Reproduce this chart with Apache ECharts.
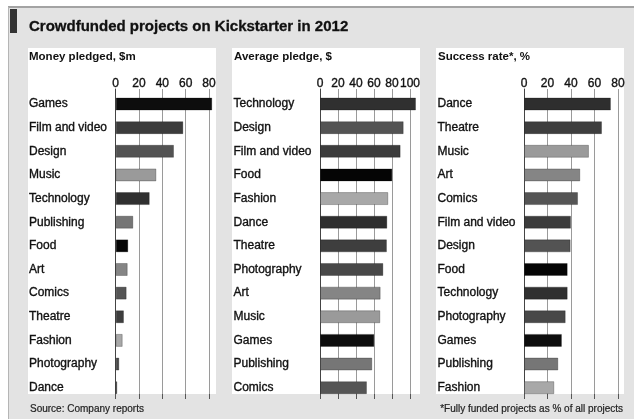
<!DOCTYPE html>
<html>
<head>
<meta charset="utf-8">
<script src="https://cdn.jsdelivr.net/npm/echarts@6/dist/echarts.min.js"></script>
<style>
html,body{margin:0;padding:0;background:#fff;}
#c{width:634px;height:419px;}
</style>
</head>
<body>
<div id="c"></div>
<script>
// ---- data ----
const categoriesMoney = ['Games','Film and video','Design','Music','Technology','Publishing','Food','Art','Comics','Theatre','Fashion','Photography','Dance'];
const moneyPledged = [82.8, 58.0, 50.0, 34.9, 29.2, 15.1, 10.8, 10.3, 9.4, 7.1, 6.0, 3.1, 1.4];

const categoriesPledge = ['Technology','Design','Film and video','Food','Fashion','Dance','Theatre','Photography','Art','Music','Games','Publishing','Comics'];
const averagePledge = [106.7, 93.0, 89.6, 80.4, 75.9, 74.8, 74.4, 70.4, 67.4, 67.0, 60.4, 58.1, 52.2];

const categoriesSuccess = ['Dance','Theatre','Music','Art','Comics','Film and video','Design','Food','Technology','Photography','Games','Publishing','Fashion'];
const successRate = [74.0, 66.4, 55.3, 47.9, 46.0, 40.0, 39.7, 37.2, 37.2, 35.5, 32.3, 29.2, 25.8];

const ticksMoney = [0, 20, 40, 60, 80];
const ticksPledge = [0, 20, 40, 60, 80, 100];
const ticksSuccess = [0, 20, 40, 60, 80];

const titleText = 'Crowdfunded projects on Kickstarter in 2012';
const subtitles = ['Money pledged, $m', 'Average pledge, $', 'Success rate*, %'];
const sourceText = 'Source: Company reports';
const noteText = '*Fully funded projects as % of all projects';

// ---- styles ----
const categoryColors = {
  'Games':'#0d0d0d','Film and video':'#3c3c3c','Design':'#535353','Music':'#9a9a9a',
  'Technology':'#303030','Publishing':'#767676','Food':'#050505','Art':'#858585',
  'Comics':'#555555','Theatre':'#3e3e3e','Fashion':'#a8a8a8','Photography':'#484848','Dance':'#2e2e2e'
};
const FONT = '"Liberation Sans", Arial, sans-serif';

const panels = [
  {cats: categoriesMoney, vals: moneyPledged, ticks: ticksMoney, left: 115.7, width: 93.3, labelX: 29, px0: 28, px1: 216, subX: 29},
  {cats: categoriesPledge, vals: averagePledge, ticks: ticksPledge, left: 320, width: 90, labelX: 233.5, px0: 232, px1: 420, subX: 234},
  {cats: categoriesSuccess, vals: successRate, ticks: ticksSuccess, left: 524, width: 94, labelX: 437.5, px0: 436, px1: 624, subX: 438}
];

const grid = [], xAxis = [], yAxis = [], series = [], graphic = [];

graphic.push({type:'rect', z:-20, shape:{x:8, y:7, width:626, height:412}, style:{fill:'#e3e3e3'}});
graphic.push({type:'rect', z:-19, shape:{x:8, y:6, width:626, height:2}, style:{fill:'#a3a3a3'}});
graphic.push({type:'rect', z:-19, shape:{x:8, y:7, width:1, height:412}, style:{fill:'#b5b5b5'}});
graphic.push({type:'rect', z:-18, shape:{x:10, y:9, width:7, height:24}, style:{fill:'#333333'}});
graphic.push({type:'text', z:20, x:29, y:27, style:{text:titleText, font:'bold 15px ' + FONT, fill:'#111', textVerticalAlign:'middle', stroke:'#111', lineWidth:0.3}});
graphic.push({type:'text', z:20, x:30, y:409, style:{text:sourceText, font:'10px ' + FONT, fill:'#222', textVerticalAlign:'middle', stroke:'#222', lineWidth:0.2}});
graphic.push({type:'text', z:20, x:623, y:409, style:{text:noteText, font:'10px ' + FONT, fill:'#222', textVerticalAlign:'middle', textAlign:'right', stroke:'#222', lineWidth:0.2}});

panels.forEach((p, i) => {
  graphic.push({type:'rect', z:-15, shape:{x:p.px0, y:48, width:p.px1 - p.px0, height:346}, style:{fill:'#ffffff'}});
  graphic.push({type:'text', z:20, x:p.subX, y:57, style:{text:subtitles[i], font:'bold 11.5px ' + FONT, fill:'#111', textVerticalAlign:'middle'}});

  const tmin = p.ticks[0], tmax = p.ticks[p.ticks.length - 1], tint = p.ticks[1] - p.ticks[0];
  const gBar = grid.length;
  grid.push({left: p.left, width: p.width, top: 92.2, height: 307.3, containLabel: false});
  const gLine = grid.length;
  grid.push({left: p.left, width: p.width, top: 89, height: 305, containLabel: false});

  // bar axes
  xAxis.push({gridIndex: gBar, type:'value', min: tmin, max: tmax, interval: tint, show: false});
  yAxis.push({gridIndex: gBar, type:'category', data: p.cats, inverse: true,
    axisLine:{show:false}, axisTick:{show:false}, splitLine:{show:false},
    axisLabel:{align:'left', margin: p.left - p.labelX, fontFamily: FONT, fontSize: 12, color:'#111',
      textBorderColor:'#111', textBorderWidth:0.35}});
  // gridline axes
  xAxis.push({gridIndex: gLine, type:'value', position:'top', min: tmin, max: tmax, interval: tint,
    axisLine:{show:false},
    axisTick:{show:true, inside:true, length:5, lineStyle:{color:'#555', width:1}},
    axisLabel:{margin: 5, verticalAlign:'middle', fontFamily: FONT, fontSize: 12, color:'#111',
      textBorderColor:'#111', textBorderWidth:0.35},
    splitLine:{show:true, showMinLine:true, showMaxLine:true, lineStyle:{color:'#9a9a9a', width:1}}});
  yAxis.push({gridIndex: gLine, type:'value', min:0, max:1,
    axisLine:{show:true, lineStyle:{color:'#444', width:1}},
    axisTick:{show:false}, axisLabel:{show:false}, splitLine:{show:false}});

  series.push({type:'bar', xAxisIndex: gBar, yAxisIndex: gBar, barWidth: 13, clip: false,
    silent: true,
    data: p.vals.map((v, k) => ({value: v, itemStyle:{color: categoryColors[p.cats[k]], borderColor:'rgba(0,0,0,0.25)', borderWidth:1}}))});
});

const chart = echarts.init(document.getElementById('c'), null, {renderer:'canvas'});
chart.setOption({animation:false, grid, xAxis, yAxis, series, graphic});
</script>
</body>
</html>
